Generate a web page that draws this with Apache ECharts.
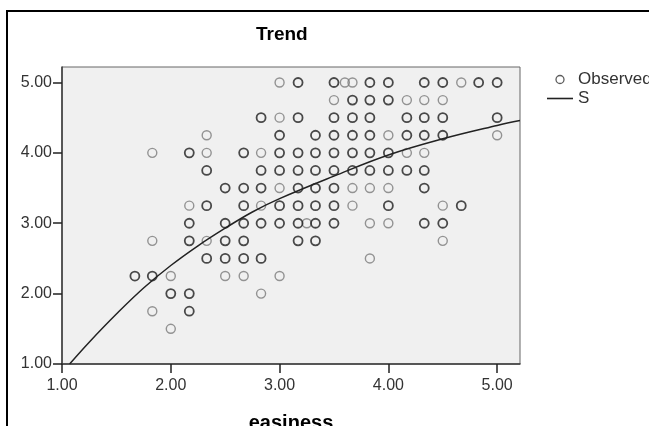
<!DOCTYPE html>
<html><head><meta charset="utf-8">
<script src="https://cdn.jsdelivr.net/npm/echarts@6/dist/echarts.min.js"></script>
<style>html,body{margin:0;padding:0;background:#fff}#c{width:649px;height:426px}</style>
</head><body><div id="c"></div>
<script>
// Tick labels
const xTicks = [1, 2, 3, 4, 5];
const yTicks = [1, 2, 3, 4, 5];

// Observed points, grouped by y value (rows). Dark = overlapping (heavier) circles, light = single circles.
const rowValues = [5.00, 4.75, 4.50, 4.25, 4.00, 3.75, 3.50, 3.25, 3.00, 2.75, 2.50, 2.25, 2.00, 1.75, 1.50];
const darkX = [
  [3.17, 3.50, 3.83, 4.00, 4.33, 4.50, 4.83, 5.00],
  [3.67, 3.83, 4.00],
  [2.83, 3.17, 3.50, 3.67, 3.83, 4.17, 4.33, 4.50, 5.00],
  [3.00, 3.33, 3.50, 3.67, 3.83, 4.17, 4.33, 4.50],
  [2.17, 2.67, 3.00, 3.17, 3.33, 3.50, 3.67, 3.83, 4.00],
  [2.33, 2.83, 3.00, 3.17, 3.33, 3.50, 3.67, 3.83, 4.00, 4.17, 4.33],
  [2.50, 2.67, 2.83, 3.17, 3.33, 3.50, 4.33],
  [2.33, 2.67, 3.00, 3.17, 3.33, 3.50, 4.00, 4.67],
  [2.17, 2.50, 2.67, 2.83, 3.00, 3.17, 3.33, 3.50, 4.33, 4.50],
  [2.17, 2.50, 2.67, 3.17, 3.33],
  [2.33, 2.50, 2.67, 2.83],
  [1.67, 1.83],
  [2.00, 2.17],
  [2.17],
  []
];
const lightX = [
  [3.00, 3.60, 3.67, 4.67],
  [3.50, 4.17, 4.33, 4.50],
  [3.00],
  [2.33, 4.00, 5.00],
  [1.83, 2.33, 2.83, 4.17, 4.33],
  [],
  [3.00, 3.67, 3.83, 4.00],
  [2.17, 2.83, 3.67, 4.50],
  [3.25, 3.83, 4.00],
  [1.83, 2.33, 4.50],
  [3.83],
  [2.00, 2.50, 2.67, 3.00],
  [2.83],
  [1.83],
  [2.00]
];

// Fitted S curve
const curveX = [1.07, 1.25, 1.50, 1.75, 2.00, 2.25, 2.50, 2.75, 3.00, 3.50, 4.00, 4.50, 5.00, 5.21];
const curveY = [1.00, 1.31, 1.71, 2.08, 2.40, 2.68, 2.93, 3.16, 3.35, 3.67, 3.97, 4.20, 4.39, 4.46];

const observedData = [];
rowValues.forEach((y, i) => {
  lightX[i].forEach(x => observedData.push({value: [x, y], itemStyle: {borderColor: '#7a7a7a', borderWidth: 1.4}}));
  darkX[i].forEach(x => observedData.push({value: [x, y], itemStyle: {borderColor: '#1e1e1e', borderWidth: 1.8}}));
});
const curveData = curveX.map((x, i) => [x, curveY[i]]);

const chart = echarts.init(document.getElementById('c'), null, {renderer: 'canvas'});
const axisCommon = {
  type: 'value',
  splitLine: {show: false},
  axisLine: {show: true, onZero: false, lineStyle: {color: '#3a3a3a', width: 1.5}},
  axisTick: {show: true, length: 9, lineStyle: {color: '#222', width: 1.5}},
  axisLabel: {fontFamily: 'Liberation Sans', fontSize: 16, color: '#333', formatter: v => v.toFixed(2)}
};
chart.setOption({
  animation: false,
  backgroundColor: '#fff',
  title: {
    text: 'Trend', left: 251, top: 20,
    textStyle: {fontFamily: 'Liberation Sans', fontWeight: 'bold', fontSize: 19, color: '#000'}
  },
  graphic: [{
    type: 'rect', z: -10, silent: true,
    shape: {x: 7, y: 11, width: 800, height: 600},
    style: {fill: 'none', stroke: '#000', lineWidth: 2}
  }],
  legend: {
    orient: 'vertical', left: 542, top: 66, itemWidth: 26, itemHeight: 8, itemGap: 2,
    textStyle: {fontFamily: 'Liberation Sans', fontSize: 17, color: '#333'},
    data: [
      {name: 'Observed', icon: 'circle', itemStyle: {color: 'rgba(0,0,0,0)', borderColor: '#333', borderWidth: 1.3}},
      {name: 'S', icon: 'path://M0,0 L26,0 L26,1.6 L0,1.6 Z', itemStyle: {color: '#222'}}
    ]
  },
  grid: {
    left: 62, right: 129, top: 67, bottom: 62, show: true, outerBoundsMode: 'none', containLabel: false,
    backgroundColor: '#f0f0f0', borderColor: '#666', borderWidth: 1
  },
  xAxis: Object.assign({}, axisCommon, {
    min: 1, max: 5.21, interval: 1,
    axisTick: Object.assign({}, axisCommon.axisTick, {customValues: xTicks}),
    axisLabel: Object.assign({}, axisCommon.axisLabel, {customValues: xTicks, margin: 14}),
    name: 'easiness', nameLocation: 'middle', nameGap: 49,
    nameTextStyle: {fontFamily: 'Liberation Sans', fontWeight: 'bold', fontSize: 20, color: '#000'}
  }),
  yAxis: Object.assign({}, axisCommon, {
    min: 1, max: 5.22, interval: 1,
    axisTick: Object.assign({}, axisCommon.axisTick, {customValues: yTicks}),
    axisLabel: Object.assign({}, axisCommon.axisLabel, {customValues: yTicks, margin: 10})
  }),
  series: [
    {
      name: 'Observed', type: 'scatter', symbol: 'circle', symbolSize: 9,
      itemStyle: {color: 'rgba(0,0,0,0)', borderColor: '#333', borderWidth: 1.5},
      data: observedData, z: 2
    },
    {
      name: 'S', type: 'line', smooth: 0.4, showSymbol: false, clip: true,
      lineStyle: {color: '#222', width: 1.5}, itemStyle: {color: '#222'},
      data: curveData, z: 3
    }
  ]
});
</script></body></html>
